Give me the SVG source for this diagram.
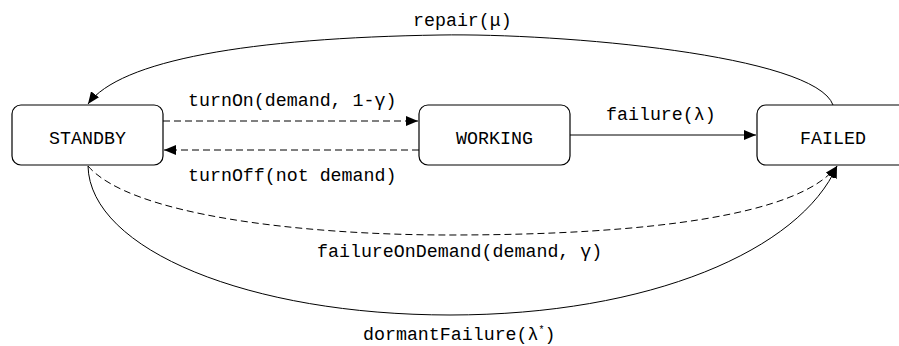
<svg xmlns="http://www.w3.org/2000/svg" width="899" height="346" viewBox="0 0 899 346">
<style>
.node rect{fill:#fff;stroke:#000;stroke-width:1.2}
text{font-family:"Liberation Mono","Courier New",monospace;font-size:18.3px;fill:#000}
.nt{text-anchor:middle}
.e{fill:none;stroke:#000;stroke-width:1}
.d{stroke-dasharray:7,4}
</style>
<defs>
<marker id="ah" viewBox="0 0 12 10" refX="12" refY="5" markerWidth="12" markerHeight="10" markerUnits="userSpaceOnUse" orient="auto">
<path d="M0,0 L12,5 L0,10 Z" fill="#000"/>
</marker>
</defs>
<g id="connectors">
<path class="e" d="M833,105 C815,55 560,33 440,35 C250,38 120,60 88,104" marker-end="url(#ah)"/>
<path class="e d" d="M163,121 L418,121" marker-end="url(#ah)"/>
<path class="e d" d="M419,150 L164,150" marker-end="url(#ah)"/>
<path class="e" d="M570,135 L756,135" marker-end="url(#ah)"/>
<path class="e d" d="M88,166 C130,215 300,235 450,235 C650,235 800,215 837,166" marker-end="url(#ah)"/>
<path class="e" d="M88,166 C90,250 250,315 450,315 C650,315 800,250 837,166" marker-end="url(#ah)"/>
<text x="413" y="26">repair(μ)</text>
<text x="188" y="106">turnOn(demand, 1-γ)</text>
<text x="188" y="181">turnOff(not demand)</text>
<text x="606" y="120">failure(λ)</text>
<text x="317" y="257">failureOnDemand(demand, γ)</text>
<text x="363" y="340">dormantFailure(λ<tspan font-size="10" dy="-7">*</tspan><tspan dy="7">)</tspan></text>
</g>
<g id="standby" class="node"><rect x="12" y="105" width="151" height="60" rx="9"/><text class="nt" x="87.5" y="144">STANDBY</text></g>
<g id="working" class="node"><rect x="419" y="105" width="151" height="60" rx="9"/><text class="nt" x="494.5" y="144">WORKING</text></g>
<g id="failed" class="node"><rect x="757" y="105" width="152" height="60" rx="9"/><text class="nt" x="833" y="144">FAILED</text></g>
</svg>
